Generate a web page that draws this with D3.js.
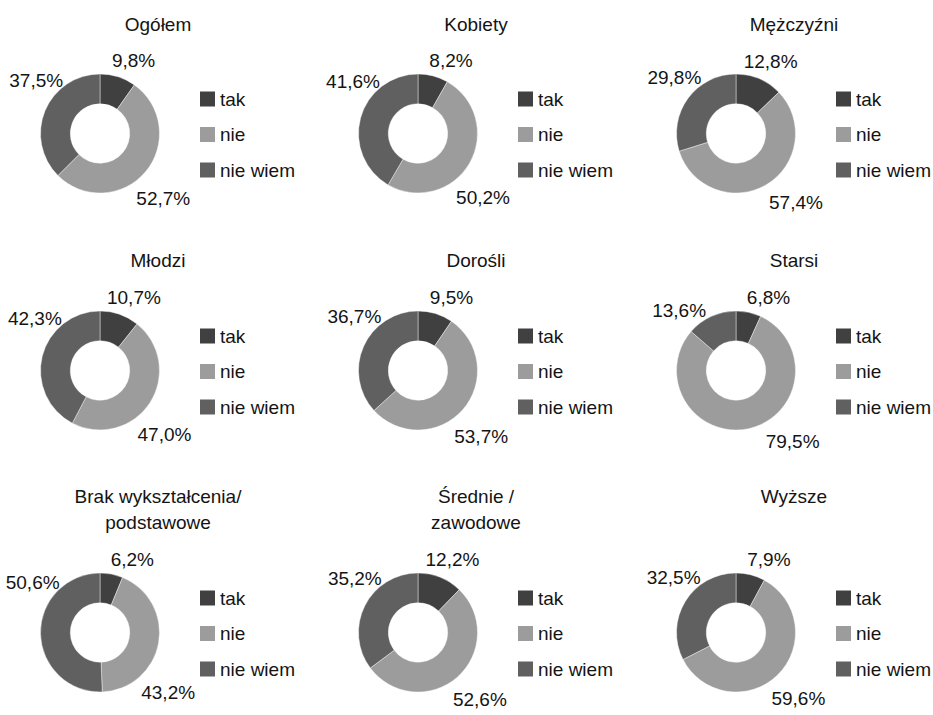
<html>
<head>
<meta charset="utf-8">
<script src="https://d3js.org/d3.v7.min.js"></script>
<style>
body {margin:0; background:#fff;}
text {font-family:"Liberation Sans", Arial, sans-serif; font-size:19px; fill:#141414;}
</style>
</head>
<body>
<svg width="933" height="715"></svg>
<script>

// data
var groups = ["Ogółem","Kobiety","Mężczyźni","Młodzi","Dorośli","Starsi","Brak wykształcenia/|podstawowe","Średnie /|zawodowe","Wyższe"]
var answers = ["tak","nie","nie wiem"]
var tak = [9.8,8.2,12.8,10.7,9.5,6.8,6.2,12.2,7.9]
var nie = [52.7,50.2,57.4,47.0,53.7,79.5,43.2,52.6,59.6]
var nieWiem = [37.5,41.6,29.8,42.3,36.7,13.6,50.6,35.2,32.5]

var colors = d3.scaleOrdinal().domain(answers).range(["#404040","#9c9c9c","#606060"])

// layout of the 3x3 grid
var colX = [100,418,736]
var rowY = [133.5,370.5,632.5]
var titleY = [31,267,503]

var rOut = 59.5, rIn = 29.7

var svg = d3.select("svg")
var pie = d3.pie().sort(null).value(function(d){ return d.v })
var arc = d3.arc().innerRadius(rIn).outerRadius(rOut)
var pct = d3.formatLocale({decimal:",", thousands:" ", grouping:[3], currency:["","zł"]}).format(".1f")

// labels sit outside the ring, pulled toward the corner of their side
function labelPos(mid) {
	var deg = mid*180/Math.PI
	var anchor = deg < 90 ? 26 : (deg < 200 ? 137 : 313)
	var a = (anchor + 0.15*(deg-anchor))*Math.PI/180
	var D = 84 - 6*Math.cos(a) + 4*Math.abs(Math.sin(a))
	return [D*Math.sin(a), -D*Math.cos(a)]
}

groups.forEach(function(name,i){
	var cx = colX[i%3], cy = rowY[Math.floor(i/3)]
	var data = [{k:"tak",v:tak[i]},{k:"nie",v:nie[i]},{k:"nie wiem",v:nieWiem[i]}]

	// title
	var t = svg.append("text")
		.attr("x", cx+58)
		.attr("y", titleY[Math.floor(i/3)])
		.style("text-anchor","middle")
	name.split("|").forEach(function(line,j){
		t.append("tspan").attr("x",cx+58).attr("dy", j==0 ? 0 : 25.5).text(line)
	})

	var g = svg.append("g").attr("transform","translate("+cx+","+cy+")")

	var slices = pie(data)
	g.selectAll("path").data(slices).enter()
		.append("path")
		.attr("d", arc)
		.style("fill", function(d){ return colors(d.data.k) })
		.style("stroke", "#fff")
		.style("stroke-width", 0.6)
		.style("stroke-opacity", 0.7)

	g.selectAll("text.lbl").data(slices).enter()
		.append("text")
		.attr("class","lbl")
		.attr("transform", function(d){
			var p = labelPos((d.startAngle+d.endAngle)/2)
			return "translate("+p[0]+","+(p[1]+6.5)+")"
		})
		.style("text-anchor","middle")
		.text(function(d){ return pct(d.data.v)+"%" })

	// legend
	var leg = svg.append("g").attr("transform","translate("+(cx+100)+","+(cy-42)+")")
	var item = leg.selectAll("g").data(answers).enter()
		.append("g")
		.attr("transform", function(d,j){ return "translate(0,"+(j*35.5)+")" })
	item.append("rect")
		.attr("width",15).attr("height",15)
		.style("fill", function(d){ return colors(d) })
	item.append("text")
		.attr("x",20).attr("y",14)
		.text(function(d){ return d })
})

</script>
</body>
</html>
